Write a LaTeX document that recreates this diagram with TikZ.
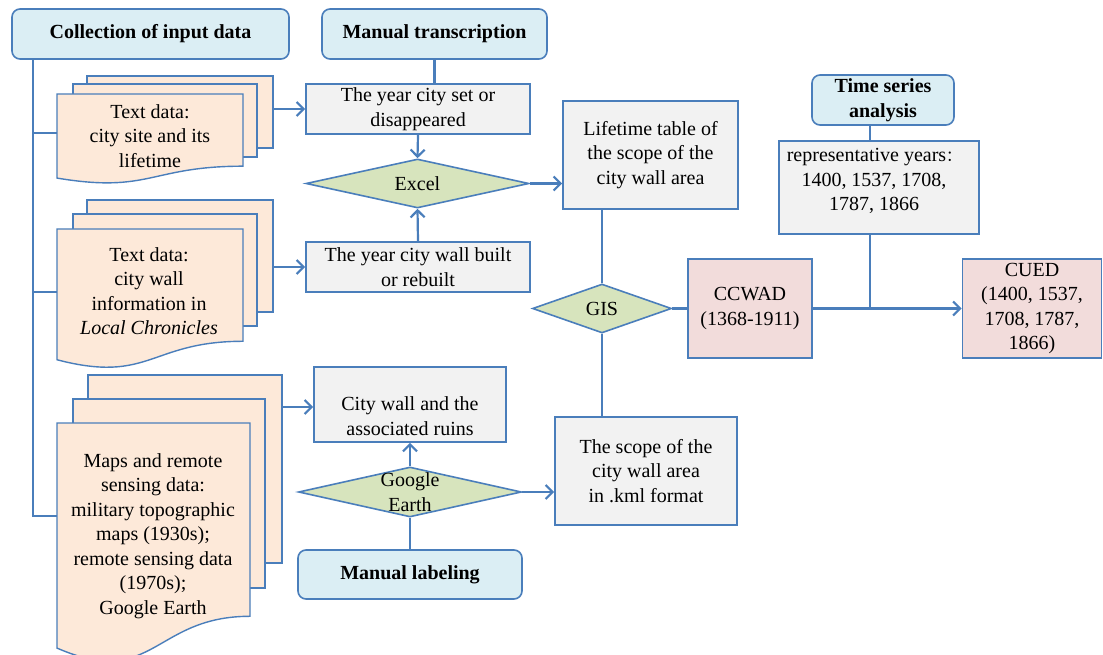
\documentclass[tikz,border=0pt]{standalone}
\usepackage{fontspec}
\setmainfont{Liberation Serif}
\newfontfamily\cjk{Noto Sans CJK SC}
\usetikzlibrary{arrows.meta,shapes.geometric}
\definecolor{edge}{RGB}{74,126,187}
\definecolor{graybox}{RGB}{242,242,242}
\definecolor{hdrfill}{RGB}{219,238,244}
\definecolor{diafill}{RGB}{215,228,189}
\definecolor{pinkfill}{RGB}{242,220,219}
\definecolor{docfill}{RGB}{253,233,217}
\newcommand\docpage[4]{%
  \filldraw[docst] (#1,#2) -- ({#1+#3},#2) -- ({#1+#3},{#2+0.802*#4})
    .. controls ({#1+0.5*#3},{#2+0.802*#4}) and ({#1+0.5*#3},{#2+1.1075*#4}) ..
    (#1,{#2+0.934*#4}) -- cycle;}
\begin{document}
\begin{tikzpicture}[x=1pt,y=-1pt,
  font=\fontsize{20}{24.5}\selectfont,
  box/.style={draw=edge, line width=1.6pt, fill=graybox, inner sep=0pt, align=center},
  hdr/.style={box, fill=hdrfill, rounded corners=8pt, font=\fontsize{20}{24.5}\selectfont\bfseries},
  dia/.style={diamond, draw=edge, line width=1.6pt, fill=diafill, inner sep=0pt},
  pinkbox/.style={box, fill=pinkfill},
  conn/.style={draw=edge, line width=2.2pt},
  arr/.style={conn, -{Straight Barb[length=7pt,width=14pt]}},
  docst/.style={draw=edge, line width=1.4pt, fill=docfill},
  txt/.style={align=center, inner sep=0pt}]
\useasboundingbox (0,0) rectangle (1103,655);
\fill[white] (0,0) rectangle (1103,655);

% headers
\node[hdr, minimum width=277pt, minimum height=50pt] (coll) at (150.5,34) {Collection of input data};
\node[hdr, minimum width=225pt, minimum height=50pt] (mtrans) at (434.5,34) {Manual transcription};
\node[hdr, minimum width=142pt, minimum height=50pt] (tsa) at (883,100) {Time series\\analysis};
\node[hdr, minimum width=224pt, minimum height=49pt] (mlab) at (410,574.5) {Manual labeling};

% document stacks
\filldraw[docst] (87,76) rectangle (273,148);
\filldraw[docst] (73,84) rectangle (257,157);
\docpage{57}{94}{186}{90}
\node[txt] (d1txt) at (150,136) {Text data:\\city site and its\\lifetime};

\filldraw[docst] (87,200) rectangle (273,312);
\filldraw[docst] (73,214) rectangle (257,326);
\docpage{57}{229}{186}{140}
\node[txt] (d2txt) at (149,291) {Text data:\\city wall\\information in\\\textit{Local Chronicles}};

\filldraw[docst] (88,375) rectangle (282,563);
\filldraw[docst] (73,399) rectangle (265,588);
\docpage{57}{423}{193}{241}
\node[txt] (d3txt) at (153,536) {Maps and remote\\sensing data:\\military topographic\\maps (1930s);\\remote sensing data\\(1970s);\\Google Earth};

\coordinate (d1in) at (57,133);
\coordinate (d2in) at (57,292);
\coordinate (d3in) at (57,516);
\coordinate (trunk) at (33,516);
\coordinate (b1e) at (273,109);
\coordinate (b2e) at (273,267);
\coordinate (b3e) at (282,407);

% process boxes
\node[box, minimum width=224pt, minimum height=50pt] (y1) at (418,109) {The year city set or\\disappeared};
\node[dia, minimum width=223pt, minimum height=49pt] (excel) at (417.5,183.5) {};
\node[txt] (exceltxt) at (excel) {Excel};
\node[box, minimum width=224pt, minimum height=50pt] (y2) at (418,267) {The year city wall built\\or rebuilt};
\node[box, minimum width=175pt, minimum height=108pt] (life) at (650.5,155) {Lifetime table of\\the scope of the\\city wall area};
\node[dia, minimum width=139pt, minimum height=49pt] (gis) at (602,308.5) {};
\node[txt] (gistxt) at (gis) {GIS};
\node[pinkbox, minimum width=124pt, minimum height=99pt] (ccwad) at (750,308.5) {CCWAD\\(1368-1911)};
\node[box, minimum width=200pt, minimum height=93pt] (rep) at (879,187.5) {};
\node[txt] (reptxt) at (874,181) {representative years{\cjk\fontsize{15}{15}\selectfont ：}\\1400, 1537, 1708,\\1787, 1866};
\node[pinkbox, minimum width=139pt, minimum height=99pt] (cued) at (1032,308.5) {CUED\\(1400, 1537,\\1708, 1787,\\1866)};
\node[box, minimum width=192pt, minimum height=75pt] (ruins) at (410,404.5) {};
\node[txt] (ruinstxt) at (410,416) {City wall and the\\associated ruins};
\node[dia, minimum width=223pt, minimum height=50pt] (ge) at (410,492) {};
\node[txt] (getxt) at (ge) {Google\\Earth};
\node[box, minimum width=182pt, minimum height=108pt] (scope) at (646,471) {The scope of the\\city wall area\\in .kml format};
\coordinate (jx) at (870,308.5);

% connectors
\draw[conn] (coll.south -| trunk) -- (trunk) -- (d3in);
\draw[conn] (d1in -| trunk) -- (d1in);
\draw[conn] (d2in -| trunk) -- (d2in);
\draw[arr] (b1e) -- (b1e -| y1.west);
\draw[arr] (b2e) -- (b2e -| y2.west);
\draw[arr] (b3e) -- (b3e -| ruins.west);
\draw[conn] (mtrans.south) -- (mtrans.south |- y1.north);
\draw[arr] (y1.south) -- (excel.north);
\draw[arr] (y2.north) -- (excel.south);
\draw[arr] (excel.east) -- (excel.east -| life.west);
\draw[conn] (gis.north) -- (gis.north |- life.south);
\draw[conn] (gis.south) -- (gis.south |- scope.north);
\draw[conn] (gis.east) -- (ccwad.west);
\draw[arr] (ccwad.east) -- (cued.west);
\draw[conn] (tsa.south -| jx) -- (rep.north -| jx);
\draw[conn] (rep.south -| jx) -- (jx);
\draw[arr] (ge.north) -- (ruins.south);
\draw[arr] (ge.east) -- (ge.east -| scope.west);
\draw[conn] (mlab.north) -- (ge.south);
\end{tikzpicture}
\end{document}
